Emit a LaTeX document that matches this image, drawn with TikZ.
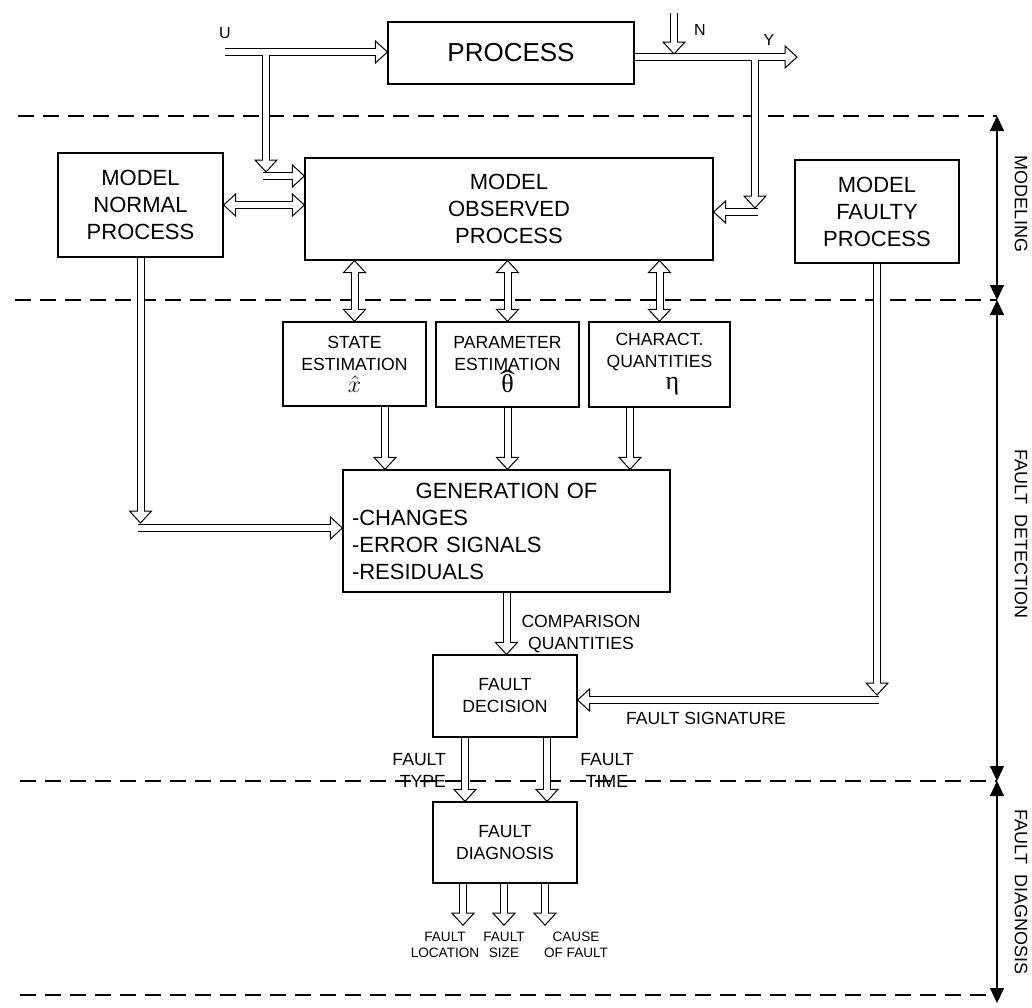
\documentclass[tikz,border=0pt]{standalone}
\usepackage{graphicx}
\usepackage{fontspec}
\setmainfont{Liberation Sans}
\newfontfamily\serif{Liberation Serif}
\usetikzlibrary{arrows.meta,decorations.markings}
\newcommand\hollowhead{%
  \draw[line width=0.5pt, fill=white, line join=miter] (0,0) -- (-6pt,5.5pt) -- (-6pt,-5.5pt) -- cycle;
  \fill[white] (-6.5pt,-1.5pt) rectangle (-5.5pt,1.5pt);}
\newcommand\thetahat{{\serif\ooalign{θ\cr\hidewidth\raisebox{1.8pt}{\scalebox{1.7}[1]{ˆ}}\hidewidth\cr}}}
\tikzset{
  shaft/.style={draw=black, line width=0.5pt, double=white, double distance=3pt},
  dar/.style={preaction={shaft, shorten >=6pt},
     postaction={decorate, decoration={markings, mark=at position 1 with {\hollowhead}}}},
  ddar/.style={preaction={shaft, shorten >=6pt, shorten <=6pt},
     postaction={decorate, decoration={markings, mark=at position 1 with {\hollowhead}}},
     postaction={decorate, decoration={markings, mark=at position 0 with {\begin{scope}[rotate=180]\hollowhead\end{scope}}}}},
  box/.style={draw, line width=0.6pt, inner sep=0pt, align=center},
  big/.style={font=\fontsize{13}{15}\selectfont},
  mid/.style={font=\fontsize{11}{13.5}\selectfont},
  sm/.style={font=\fontsize{8.8}{11}\selectfont},
  tn/.style={font=\fontsize{6.8}{8}\selectfont},
  lab/.style={font=\fontsize{8}{9}\selectfont},
  sep/.style={line width=0.8pt, dash pattern=on 8pt off 4.5pt},
  meas/.style={line width=0.6pt, {Triangle[length=7.5pt,width=7pt]}-{Triangle[length=7.5pt,width=7pt]}}
}
\begin{document}
\begin{tikzpicture}[x=0.5pt,y=-0.5pt]
\useasboundingbox (0,0) rectangle (1032,1007);

% separators
\draw[sep] (18,116) -- (997,116);
\draw[sep] (15,300) -- (997,300);
\draw[sep] (20,781) -- (997,781);
\draw[sep] (20,995) -- (997,995);

% boxes
\node[box, big, minimum width=123pt, minimum height=31pt] (proc) at (511,53) {PROCESS};
\node[box, mid, minimum width=204pt, minimum height=51pt] (mop) at (509,209) {MODEL\\OBSERVED\\PROCESS};
\node[box, mid, minimum width=82.5pt, minimum height=52pt] (mnp) at (140.5,205) {MODEL\\NORMAL\\PROCESS};
\node[box, mid, minimum width=82pt, minimum height=51.5pt] (mfp) at (877,211.5) {MODEL\\FAULTY\\PROCESS};
\node[box, sm, minimum width=71.5pt, minimum height=42pt] (se) at (354.5,364) {STATE\\ESTIMATION\\[0pt]{\fontsize{13}{13}\selectfont$\hat{x}$}};
\node[box, sm, minimum width=71.5pt, minimum height=42.5pt] (pe) at (507.5,364.5) {PARAMETER\\ESTIMATION\\[0pt]{\fontsize{13}{13}\selectfont\thetahat}};
\node[box, sm, minimum width=70.5pt, minimum height=42.5pt] (cq) at (659.5,364.5) {CHARACT.\\QUANTITIES\\[0pt]{\fontsize{13}{13}\selectfont\hspace*{13pt}\serif η}};
\node[box, mid, minimum width=163.5pt, minimum height=61pt, text width=154.5pt, align=left, inner xsep=4.5pt] (gen) at (506.5,531)
  {\makebox[\linewidth][c]{GENERATION OF}\\-CHANGES\\-ERROR SIGNALS\\-RESIDUALS};
\node[box, sm, minimum width=72pt, minimum height=41pt] (fd) at (505,696) {FAULT\\DECISION};
\node[box, sm, minimum width=72pt, minimum height=40.5pt] (fdg) at (505,842.5) {FAULT\\DIAGNOSIS};

% labels
\node[lab] (lu) at (225,33) {U};
\node[lab] (ln) at (700,30) {N};
\node[lab] (ly) at (769,40) {Y};
\node[sm, align=center] (lcq) at (581,634) {COMPARISON\\QUANTITIES};
\node[sm] (lfs) at (706,718) {FAULT SIGNATURE};
\node[sm, align=right, anchor=east] (lft) at (453,770) {FAULT\\TYPE};
\node[sm, align=center] (lfti) at (607,770) {FAULT\\TIME};
\node[tn, align=center] (o1) at (445,945) {FAULT\\LOCATION};
\node[tn, align=center] (o2) at (504,945) {FAULT\\SIZE};
\node[tn, align=center] (o3) at (576,945) {CAUSE\\OF FAULT};
\node[lab, rotate=-90, font=\fontsize{9}{10}\selectfont] (lm) at (1021,204) {MODELING};
\node[lab, rotate=-90, font=\fontsize{9}{10}\selectfont] (ld) at (1021,534) {FAULT\ \ DETECTION};
\node[lab, rotate=-90, font=\fontsize{9}{10}\selectfont] (lg) at (1021,892) {FAULT\ \ DIAGNOSIS};

% coordinates
\coordinate (uin) at (225,52);
\coordinate (ubr) at (266,55);
\coordinate (ubt) at (266,172);
\coordinate (ubh) at (263,176);
\coordinate (nin) at (674,13);
\coordinate (nout) at (674,54);
\coordinate (yout) at (797,57);
\coordinate (ybr) at (755,60);
\coordinate (ybt) at (755,208);
\coordinate (ybh) at (758,212);
\coordinate (nbt) at (140.5,523);
\coordinate (nbh) at (138,528);
\coordinate (fbt) at (877,695);
\coordinate (fbh) at (879,700);

% arrows top
\path[dar] (uin) -- (proc.west |- uin);
\path[dar] (proc.east |- yout) -- (yout);
\path[dar] (nin) -- (nout);
\path[dar] (ubr) -- (ubt);
\path[dar] (ubh) -- (mop.west |- ubh);
\path[dar] (ybr) -- (ybt);
\path[dar] (ybh) -- (mop.east |- ybh);
\path[ddar] (mnp.east) -- (mop.west |- mnp.east);

% model observed <-> estimations
\path[ddar] (se.north) -- (se.north |- mop.south);
\path[ddar] (pe.north) -- (pe.north |- mop.south);
\path[ddar] (cq.north) -- (cq.north |- mop.south);

% estimations -> generation
\path[dar] ([xshift=15.25pt]se.south) -- ([xshift=15.25pt]se.south |- gen.north);
\path[dar] (pe.south) -- (pe.south |- gen.north);
\path[dar] ([xshift=-14.75pt]cq.south) -- ([xshift=-14.75pt]cq.south |- gen.north);

% normal model -> generation
\path[dar] (mnp.south) -- (nbt);
\path[dar] (nbh) -- (gen.west |- nbh);

% generation -> decision
\path[dar] (gen.south) -- (gen.south |- fd.north);

% faulty model -> decision
\path[dar] (mfp.south) -- (fbt);
\path[dar] (fbh) -- (fd.east |- fbh);

% decision -> diagnosis
\path[dar] ([xshift=-20pt]fd.south) -- ([xshift=-20pt]fd.south |- fdg.north);
\path[dar] ([xshift=21pt]fd.south) -- ([xshift=21pt]fd.south |- fdg.north);

% diagnosis outputs
\path[dar] ([xshift=-21pt]fdg.south) -- ([xshift=-21pt]fdg.south |- o1.north);
\path[dar] ([xshift=-0.5pt]fdg.south) -- ([xshift=-0.5pt]fdg.south |- o2.north);
\path[dar] ([xshift=20pt]fdg.south) -- ([xshift=20pt]fdg.south |- o3.north);

% measuring line
\coordinate (m1) at (997,116);
\coordinate (m2) at (997,300);
\coordinate (m3) at (997,781);
\coordinate (m4) at (997,1003);
\draw[meas] (m1) -- (m2);
\draw[meas] (m2) -- (m3);
\draw[meas] (m3) -- (m4);
\end{tikzpicture}
\end{document}
